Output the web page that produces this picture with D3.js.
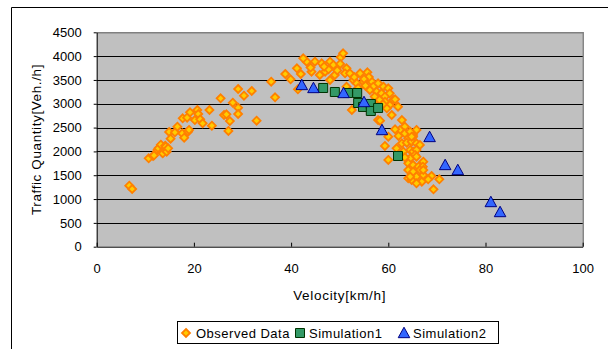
<!DOCTYPE html>
<html><head><meta charset="utf-8">
<script src="https://cdn.jsdelivr.net/npm/d3@7"></script>
<style>
html,body{margin:0;padding:0;background:#fff;}
svg text{font-family:"Liberation Sans",Arial,sans-serif;fill:#000;}
</style></head>
<body>
<svg id="c" width="608" height="349"></svg>
<script>
const xTicks = [0,20,40,60,80,100];
const yTicks = [0,500,1000,1500,2000,2500,3000,3500,4000,4500];
const seriesNames = ["Observed Data","Simulation1","Simulation2"];

const obsV = [6.7,7.3,10.7,11.6,11.8,12.5,12.7,13.2,13.4,13.6,14.1,14.2,14.4,14.7,14.9,15.2,16.1,16.6,17.6,18.0,17.7,18.6,18.8,19.0,19.2,20.2,20.7,20.9,21.3,21.8,23.2,23.7,25.5,26.2,26.7,27.1,27.4,28.0,29.1,29.1,29.1,30.3,31.9,32.9,35.9,36.7,38.8,39.9,41.2,41.4,42.0,43.2,
42.5,44.9,44.2,46.3,47.0,45.9,48.0,48.7,47.7,49.0,48.0,50.2,50.7,50.1,51.4,51.1,52.1,52.8,54.2,55.7,53.5,54.9,56.6,57.9,59.0,60.0,56.9,56.2,57.6,58.6,60.3,59.3,61.0,60.3,59.7,61.4,52.5,51.4,
57.9,60.7,62.8,63.4,65.8,65.1,62.4,64.1,57.6,59.3,58.3,61.4,62.1,63.4,64.5,65.1,62.8,63.8,64.8,65.8,66.5,59.3,61.7,63.1,64.5,65.1,65.8,67.2,65.5,64.5,63.4,60.0,64.1,65.1,66.2,67.1,66.5,64.1,65.1,64.1,64.8,65.8,66.9,65.8,67.2,68.9,68.2,70.5,69.3,64.8,65.8,67.2,64.5,60.0,
55.3,56.0,57.2,58.2,53.0,49.5,46.8,44.0,58.9,62.0,53.8,55.0];
const obsQ = [1280,1211,1856,1904,1918,2030,2065,2141,1981,1960,2120,2099,1994,2065,2408,2268,2401,2519,2379,2288,2695,2708,2414,2450,2821,2659,2869,2785,2674,2590,2869,2540,3115,2764,2779,2429,2638,3023,3310,2918,2785,3170,3268,2645,3463,3136,3625,3514,3745,3304,3625,3883,
3955,3883,3673,3850,3673,3604,3883,3814,3724,3604,3499,3976,4060,3835,3745,3640,3640,3499,3640,3661,3430,3463,3463,3430,3358,3325,3358,3289,3253,3220,3220,3149,3079,2974,2905,3094,2869,3358,
2659,2764,2659,2519,2450,2345,2450,2275,2974,3044,2645,2464,2324,2380,2414,2309,2170,2183,2204,2170,2135,2114,2065,1994,2030,1994,2030,1784,1925,1856,1877,1820,1751,1715,1679,1679,1610,1610,1574,1436,1400,1469,1364,1331,1505,1484,1415,1415,1205,2309,1889,1610,1469,2309,
3380,3560,3150,3080,3560,3700,3780,3760,2990,2940,3330,3520];

const sim1V = [46.6,49.0,51.7,53.6,53.8,54.8,56.4,56.4,57.9,62.0];
const sim1Q = [3331,3247,3226,3226,3017,2933,2996,2849,2912,1904];

const sim2V = [42.2,44.6,50.8,55.0,58.7,68.5,71.7,74.3,81.1,83.0];
const sim2Q = [3394,3331,3226,3037,2449,2303,1715,1610,938,728];

const svg = d3.select("#c");
const L = 96.7, R = 582.7, T = 32.3, B = 246.7;
const x = d3.scaleLinear().domain([0,100]).range([L,R]);
const y = d3.scaleLinear().domain([0,4500]).range([B,T]);

// outer frame
svg.append("path").attr("d","M11.5,349 L11.5,7.5 L608,7.5").attr("fill","none").attr("stroke","#000").attr("stroke-width",1);

// plot area
svg.append("rect").attr("x",L).attr("y",T).attr("width",R-L).attr("height",B-T).attr("fill","#c0c0c0");
svg.append("path").attr("d",`M${L},${T+0.5} H${R+0.5} V${B}`).attr("fill","none").attr("stroke","#808080").attr("stroke-width",1.5);

// gridlines
svg.append("g").selectAll("line").data(yTicks.filter(d=>d>0&&d<4500)).join("line")
  .attr("x1",L).attr("x2",R).attr("y1",d=>Math.round(y(d))+0.5).attr("y2",d=>Math.round(y(d))+0.5)
  .attr("stroke","#000").attr("stroke-width",1);

// axes
const xAxis = d3.axisBottom(x).tickValues(xTicks).tickFormat(d3.format("d")).tickSizeInner(-4).tickSizeOuter(0).tickPadding(10);
const gx = svg.append("g").attr("transform",`translate(0,${B})`).call(xAxis);
gx.select(".domain").attr("stroke","#000");
gx.selectAll(".tick line").attr("stroke","#000");
gx.selectAll("text").attr("font-size",13).attr("font-family","Liberation Sans, Arial, sans-serif").attr("dy","0.95em").attr("y",14);

const yAxis = d3.axisLeft(y).tickValues(yTicks).tickFormat(d3.format("d")).tickSizeInner(3).tickSizeOuter(0).tickPadding(12);
const gy = svg.append("g").attr("transform",`translate(${L},0)`).call(yAxis);
gy.select(".domain").attr("stroke","#000");
gy.selectAll(".tick line").attr("stroke","#000");
gy.selectAll("text").attr("font-size",13).attr("font-family","Liberation Sans, Arial, sans-serif").attr("x",-15);

// titles
svg.append("text").attr("x",(L+R)/2).attr("y",300).attr("text-anchor","middle")
  .attr("font-size",13.5).attr("letter-spacing",0.7).text("Velocity[km/h]");
svg.append("text").attr("transform",`translate(41,${(T+B)/2}) rotate(-90)`).attr("text-anchor","middle")
  .attr("font-size",13.5).attr("letter-spacing",0.6).text("Traffic Quantity[Veh./h]");

// markers
const diamond = s => `M0,${-s} L${s},0 L0,${s} L${-s},0Z`;
const square = s => `M${-s},${-s} H${s} V${s} H${-s}Z`;
const tri = s => `M0,${-s*1.05} L${s*1.05},${s*0.85} L${-s*1.05},${s*0.85}Z`;

const obs = obsV.map((v,i)=>({v,q:obsQ[i]}));
const s1 = sim1V.map((v,i)=>({v,q:sim1Q[i]}));
const s2 = sim2V.map((v,i)=>({v,q:sim2Q[i]}));

const styles = [
  {fill:"#ffcc00",stroke:"#ff8000",sw:1.8,path:diamond(4)},
  {fill:"#339966",stroke:"#003300",sw:1,path:square(4.5)},
  {fill:"#3366ff",stroke:"#000080",sw:1,path:tri(5.5)}
];

[obs,s1,s2].forEach((data,k)=>{
  svg.append("g").selectAll("path").data(data).join("path")
    .attr("transform",d=>`translate(${x(d.v)},${y(d.q)})`)
    .attr("d",styles[k].path).attr("fill",styles[k].fill)
    .attr("stroke",styles[k].stroke).attr("stroke-width",styles[k].sw);
});

// legend
const lg = svg.append("g");
lg.append("rect").attr("x",177.5).attr("y",321.5).attr("width",321).attr("height",22).attr("fill","#fff").attr("stroke","#000");
const items = [{mx:186,tx:196},{mx:300,tx:309},{mx:404,tx:413}];
items.forEach((it,k)=>{
  lg.append("path").attr("transform",`translate(${it.mx},333)`).attr("d",styles[k].path)
    .attr("fill",styles[k].fill).attr("stroke",styles[k].stroke).attr("stroke-width",styles[k].sw);
  lg.append("text").attr("x",it.tx).attr("y",338).attr("font-size",13).attr("letter-spacing",0.5).text(seriesNames[k]);
});
</script>
</body></html>
